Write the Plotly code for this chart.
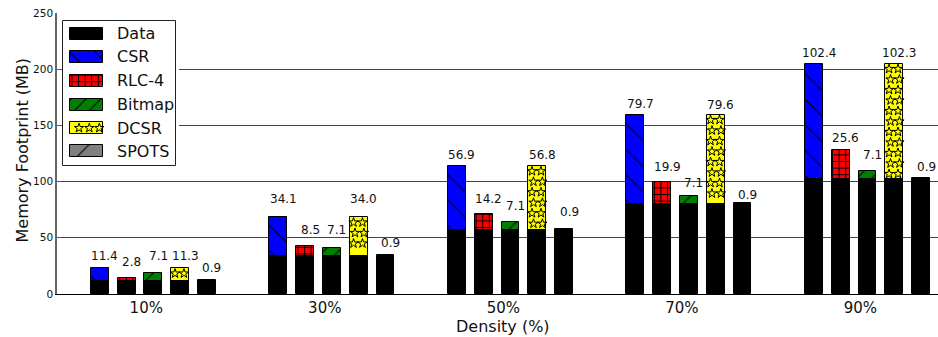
import plotly.graph_objects as go

# ---- values (MB) ----
densities = ["10%", "30%", "50%", "70%", "90%"]
data_mb = [11.4, 34.1, 56.9, 79.7, 102.4]
csr_mb = [11.4, 34.1, 56.9, 79.7, 102.4]
rlc4_mb = [2.8, 8.5, 14.2, 19.9, 25.6]
bitmap_mb = [7.1, 7.1, 7.1, 7.1, 7.1]
dcsr_mb = [11.3, 34.0, 56.8, 79.6, 102.3]
spots_mb = [0.9, 0.9, 0.9, 0.9, 0.9]
y_ticks = [0, 50, 100, 150, 200, 250]

# ---- geometry ----
W, H = 938, 337
ML, MR, MT, MB = 57, 0, 13, 43
PW, PH = W - ML - MR, H - MT - MB
X_RANGE = [-0.19, 4.745]
Y_RANGE = [0, 250]
PX_PER_Y = PH / (Y_RANGE[1] - Y_RANGE[0])
BAR_W = 0.1
BAR_STEP = 0.15
TICK_OFFSET = 0.31
FONT = "DejaVu Sans"

# label lift above each bar top (px), per series and group
label_lift = {
    "CSR":    [12.4, 18, 11, 10.5, 11],
    "RLC-4":  [16.3, 16, 14.8, 15.3, 12],
    "Bitmap": [17, 17.7, 16, 13.7, 16],
    "DCSR":   [12.4, 18, 11, 10, 10.6],
    "SPOTS":  [12, 11.6, 17, 8.4, 11],
}

series = [
    dict(name="CSR", vals=csr_mb, color="#0000ff", shape="\\", size=18, sol=0.06),
    dict(name="RLC-4", vals=rlc4_mb, color="#ff0000", shape="+", size=6.6, sol=0.28),
    dict(name="Bitmap", vals=bitmap_mb, color="#008000", shape="/", size=10.5, sol=0.1),
    dict(name="DCSR", vals=dcsr_mb, color="#ffff00", shape="", size=8, sol=0.1),
    dict(name="SPOTS", vals=spots_mb, color="#808080", shape="/", size=18, sol=0.06),
]


def centers(k):
    return [g + BAR_W / 2 + k * BAR_STEP for g in range(len(densities))]


def marker_for(s):
    m = dict(color=s["color"], line=dict(color="black", width=1))
    if s["shape"]:
        m["pattern"] = dict(shape=s["shape"], size=s["size"], solidity=s["sol"],
                            fgcolor="black", bgcolor=s["color"], fillmode="replace")
    return m


fig = go.Figure()

# base "Data" portion under every bar
all_x, all_y = [], []
for k in range(len(series)):
    all_x += centers(k)
    all_y += data_mb
fig.add_trace(go.Bar(x=all_x, y=all_y, width=BAR_W, showlegend=False,
                     marker=dict(color="black", line=dict(color="black", width=1)),
                     hoverinfo="skip"))

# overhead portion stacked on the data
annotations = []
for k, s in enumerate(series):
    xs = centers(k)
    fig.add_trace(go.Bar(x=xs, y=s["vals"], base=data_mb, width=BAR_W, name=s["name"],
                         showlegend=False, marker=marker_for(s), hoverinfo="skip"))
    for g, (x, v) in enumerate(zip(xs, s["vals"])):
        annotations.append(dict(
            x=x, y=data_mb[g] + v, xref="x", yref="y", text=f"{v:.1f}",
            showarrow=False, xanchor="center", yanchor="middle",
            xshift=5, yshift=label_lift[s["name"]][g],
            font=dict(family=FONT, size=12, color="#111")))

# star texture for the DCSR segments
star_x, star_y = [], []
row_gap = 10.5 / PX_PER_Y
for g, x in enumerate(centers(3)):
    bottom = data_mb[g]
    top = data_mb[g] + dcsr_mb[g]
    r = 0
    y = top - 5 / PX_PER_Y
    while y > bottom + 3 / PX_PER_Y:
        jitter = 0.008 if r % 2 else 0.0
        for dx in (-0.025, 0.025):
            star_x.append(x + dx + jitter - 0.004)
            star_y.append(y)
        r += 1
        y -= row_gap
fig.add_trace(go.Scatter(x=star_x, y=star_y, mode="markers", showlegend=False,
                         hoverinfo="skip",
                         marker=dict(symbol="star-open", size=7, color="black",
                                     line=dict(color="black", width=1))))

# ---- legend panel drawn in its own pixel-scaled axes ----
LX0, LX1, LY0, LY1 = 62, 179, 19, 168
leg_rows = [33.8, 56.8, 80.5, 104.5, 128, 151]
legend_names = ["Data"] + [s["name"] for s in series]
legend_styles = [dict(color="black", shape="", size=8, sol=0.1)] + series

fig.add_trace(go.Bar(orientation="h", y=[93.2], x=[112.7], base=[63.3], width=[145],
                     xaxis="x2", yaxis="y2", showlegend=False, hoverinfo="skip",
                     marker=dict(color="white", line=dict(color="#222", width=1))))
for row, st in zip(leg_rows, legend_styles):
    fig.add_trace(go.Bar(orientation="h", y=[row], x=[32.7], base=[70], width=[12],
                         xaxis="x2", yaxis="y2", showlegend=False, hoverinfo="skip",
                         marker=marker_for(st)))
fig.add_trace(go.Scatter(x=[79, 89.3, 99.3], y=[leg_rows[4]] * 3, mode="markers",
                         xaxis="x2", yaxis="y2", showlegend=False, hoverinfo="skip",
                         marker=dict(symbol="star-open", size=7, color="black",
                                     line=dict(color="black", width=1))))
for row, name in zip(leg_rows, legend_names):
    annotations.append(dict(x=115, y=row, xref="x2", yref="y2", text=name,
                            showarrow=False, xanchor="left", yanchor="middle",
                            font=dict(family=FONT, size=16, color="#111")))

# axis titles
annotations.append(dict(x=(21.5 - ML) / PW, y=(MT + PH - 150) / PH, xref="paper", yref="paper",
                        text="Memory Footprint (MB)", textangle=-90, showarrow=False,
                        xanchor="center", yanchor="middle",
                        font=dict(family=FONT, size=16, color="#111")))
annotations.append(dict(x=(503 - ML) / PW, y=(MT + PH - 326.5) / PH, xref="paper", yref="paper",
                        text="Density (%)", showarrow=False,
                        xanchor="center", yanchor="middle",
                        font=dict(family=FONT, size=16, color="#111")))

fig.update_layout(
    width=W, height=H,
    margin=dict(l=ML, r=MR, t=MT, b=MB, pad=0),
    paper_bgcolor="white", plot_bgcolor="white",
    barmode="overlay", bargap=0,
    showlegend=False,
    font=dict(family=FONT, color="#111"),
    annotations=annotations,
    xaxis=dict(range=X_RANGE, tickvals=[g + TICK_OFFSET for g in range(len(densities))],
               ticktext=densities, ticks="", showgrid=False, zeroline=False,
               showline=True, linecolor="black", linewidth=1,
               tickfont=dict(family=FONT, size=15, color="#111"), fixedrange=True),
    yaxis=dict(range=Y_RANGE, tickvals=y_ticks, ticks="inside", ticklen=5,
               tickcolor="#555", showgrid=True, gridcolor="#444", gridwidth=1,
               zeroline=False, showline=True, linecolor="#666", linewidth=1.5,
               tickfont=dict(family=FONT, size=10.5, color="#111"), fixedrange=True),
    xaxis2=dict(domain=[(LX0 - ML) / PW, (LX1 - ML) / PW], range=[LX0, LX1],
                anchor="y2", visible=False, fixedrange=True),
    yaxis2=dict(domain=[(MT + PH - LY1) / PH, (MT + PH - LY0) / PH], range=[LY1, LY0],
                anchor="x2", visible=False, fixedrange=True),
)

fig.write_html("out.html")
